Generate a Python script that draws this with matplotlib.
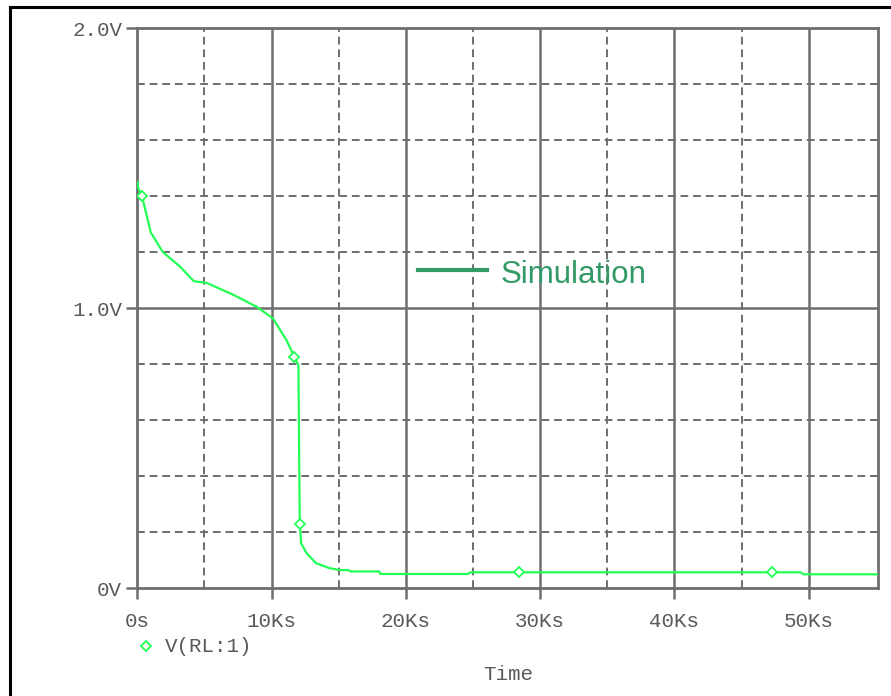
import matplotlib.pyplot as plt
import matplotlib.ticker as mticker
from matplotlib.lines import Line2D

time_ks = [0.0, 0.05, 0.35, 1.0, 1.9, 3.2, 4.2, 5.2, 7.2, 8.9, 10.1, 11.1, 11.7,
           12.0, 12.05, 12.1, 12.2, 12.6, 13.3, 14.3, 15.1, 15.7, 15.9, 18.0,
           18.1, 24.6, 24.8, 49.4, 49.6, 55.2]
voltage = [1.45, 1.43, 1.40, 1.27, 1.20, 1.147, 1.096, 1.089, 1.046, 1.004, 0.963,
           0.886, 0.825, 0.796, 0.50, 0.23, 0.16, 0.125, 0.089, 0.071, 0.064,
           0.064, 0.059, 0.059, 0.050, 0.050, 0.056, 0.056, 0.049, 0.049]

marker_time_ks = [0.35, 11.7, 12.1, 28.4, 47.3]
marker_voltage = [1.40, 0.825, 0.23, 0.056, 0.056]

x_major = [0, 10, 20, 30, 40, 50]
x_labels = ["0s", "10Ks", "20Ks", "30Ks", "40Ks", "50Ks"]
y_major = [0, 1, 2]
y_labels = ["0V", "1.0V", "2.0V"]

trace_color = "#22ff55"
grid_color = "#6e6e6e"
text_color = "#5a5a5a"
mono = "Liberation Mono"
fsize = 15

fig = plt.figure(figsize=(8.91, 6.96), dpi=100)
W, H = 891, 696
ax = fig.add_axes([137.3 / W, 1 - 588 / H, (877.7 - 137.3) / W, 560 / H])

ax.plot([t * 1000 for t in time_ks], voltage, color=trace_color, lw=1.6, zorder=3)
ax.plot([t * 1000 for t in marker_time_ks], marker_voltage, ls="none", marker="D",
        ms=5.5, mfc="white", mec=trace_color, mew=1.3, zorder=4)

ax.set_xlim(0, 55140)
ax.set_ylim(0, 2.0)

# grid: solid at major, dashed at minor
dash = (0, (4, 2.5))
for xv in range(5000, 55000, 10000):
    ax.axvline(xv, color=grid_color, lw=1.4, ls=dash, zorder=1)
for xv in range(10000, 55000, 10000):
    ax.axvline(xv, color=grid_color, lw=1.8, zorder=1)
for yv in [0.2, 0.4, 0.6, 0.8, 1.2, 1.4, 1.6, 1.8]:
    ax.axhline(yv, color=grid_color, lw=1.4, ls=dash, zorder=1)
ax.axhline(1.0, color=grid_color, lw=1.8, zorder=1)

for s in ax.spines.values():
    s.set_color(grid_color)
    s.set_linewidth(2)

ax.set_xticks([v * 1000 for v in x_major])
ax.set_xticklabels(x_labels)
ax.set_yticks(y_major)
ax.set_yticklabels(y_labels)
ax.xaxis.set_minor_locator(mticker.NullLocator())
ax.yaxis.set_minor_locator(mticker.NullLocator())
ax.tick_params(axis="both", direction="out", length=8, width=1.8, color=grid_color,
               labelcolor=text_color, labelsize=fsize)
ax.tick_params(axis="x", pad=9)
ax.tick_params(axis="y", pad=3)
for lab in ax.get_xticklabels() + ax.get_yticklabels():
    lab.set_fontfamily(mono)

# bottom legend and axis title (PSpice style)
fig.add_artist(Line2D([146 / W], [1 - 646 / H], marker="D", ms=5.5, mfc="white",
                      mec=trace_color, mew=1.3, ls="none"))
fig.text(165 / W, 1 - 646 / H, "V(RL:1)", family=mono, fontsize=fsize,
         color=text_color, va="center", ha="left")
fig.text(508 / W, 1 - 675 / H, "Time", family=mono, fontsize=fsize,
         color=text_color, va="center", ha="center")

# overlay legend in plot
fig.add_artist(Line2D([418 / W, 487 / W], [1 - 270 / H, 1 - 270 / H],
                      color="#339966", lw=3))
fig.text(501 / W, 1 - 275 / H, "Simulation", family="Liberation Sans", fontsize=22.5,
         color="#339966", va="center", ha="left")

# outer frame (runs off the right and bottom edges)
fig.add_artist(Line2D([9.5 / W, 9.5 / W], [0, 1 - 7 / H], color="black", lw=2.2))
fig.add_artist(Line2D([9.5 / W, 1], [1 - 7 / H, 1 - 7 / H], color="black", lw=2.2))

fig.savefig("out.png", dpi=100)
